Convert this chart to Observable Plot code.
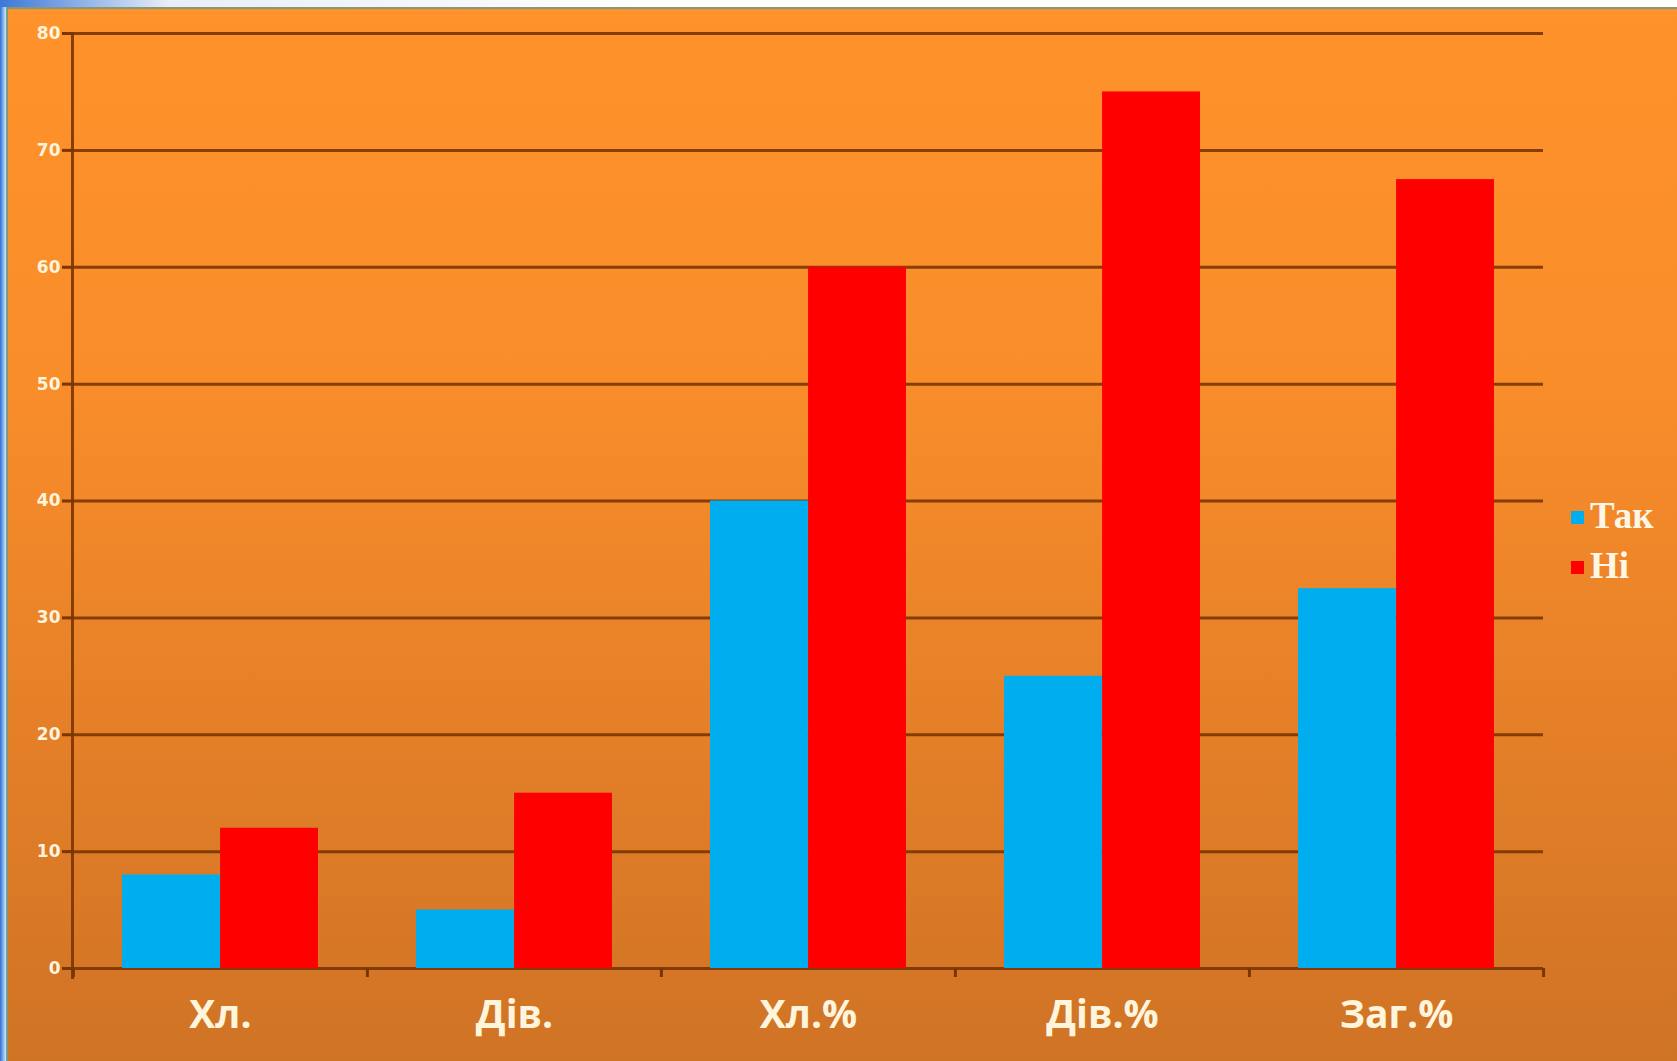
<!DOCTYPE html>
<html>
<head>
<meta charset="utf-8">
<script src="https://cdn.jsdelivr.net/npm/d3@7"></script>
<script src="https://cdn.jsdelivr.net/npm/@observablehq/plot@0.6"></script>
<style>
  html, body { margin: 0; padding: 0; }
  body { width: 1677px; height: 1061px; overflow: hidden; position: relative;
         background: linear-gradient(90deg, #2a6fd6 0px, #9cc0ef 4px, #dfe9f7 6px); }
  #topstrip { position: absolute; left: 0; top: 0; width: 1677px; height: 7px;
         background: linear-gradient(90deg, #3b78d8 0%, #e8eef8 10%, #ffffff 40%, #ffffff 100%); }
  #panel { position: absolute; left: 6px; top: 7px; width: 1671px; height: 1054px;
         background: linear-gradient(180deg, #ff922a 0%, #f98d2a 35%, #e47f28 70%, #cf7325 100%);
         border-top: 2px solid #7f9a7e; border-left: 2px solid #6fa08e; box-sizing: border-box; }
  #chart { position: absolute; left: 0; top: 0; }
  #legend { position: absolute; left: 1571px; top: 491px; font-family: "Liberation Serif", serif;
            font-size: 37px; font-weight: bold; color: #fff6e6; line-height: 50px; }
  #legend .row { display: flex; align-items: center; }
  #legend .sw { width: 13px; height: 13px; margin-right: 6px; margin-top: 2px; }
</style>
</head>
<body>
<div id="topstrip"></div>
<div id="panel"></div>
<div id="chart"></div>
<div id="legend"></div>
<script>
const categories = ["Хл.", "Дів.", "Хл.%", "Дів.%", "Заг.%"];
const series = ["Так", "Ні"];
const takValues = [8, 5, 40, 25, 32.5];
const niValues = [12, 15, 60, 75, 67.5];
const yTicks = [0, 10, 20, 30, 40, 50, 60, 70, 80];
const colors = ["#00aeef", "#ff0000"];

const tak = categories.map((c, i) => ({category: c, series: series[0], value: takValues[i]}));
const ni = categories.map((c, i) => ({category: c, series: series[1], value: niValues[i]}));

const W = 1677, H = 1061, ML = 72, MR = 134, MT = 33, MB = 93;
const step = (W - ML - MR) / categories.length;
const pInner = 1 / 3, pOuter = 1 / 6;
const bandwidth = step * (1 - pInner);
const gridColor = "#7a3500";
const labelColor = "#fff4dc";

const plot = Plot.plot({
  width: W,
  height: H,
  marginLeft: ML,
  marginRight: MR,
  marginTop: MT,
  marginBottom: MB,
  style: {background: "transparent", overflow: "visible"},
  x: {domain: categories, paddingInner: pInner, paddingOuter: pOuter, axis: null, label: null},
  y: {domain: [0, 80], axis: null, label: null},
  color: {domain: series, range: colors},
  marks: [
    Plot.ruleY(yTicks, {stroke: gridColor, strokeWidth: 3, strokeOpacity: 0.9}),
    Plot.axisY(yTicks, {
      label: null,
      tickSize: 10, tickPadding: 2, stroke: gridColor, strokeWidth: 3,
      fill: labelColor, fontSize: 17, fontWeight: "bold",
      fontFamily: "DejaVu Sans", tickFormat: d => String(d)
    }),
    Plot.frame({anchor: "left", stroke: gridColor, strokeWidth: 3, strokeOpacity: 0.9, insetBottom: -9}),
    Plot.barY(tak, {x: "category", y: "value", fill: "series", insetRight: bandwidth / 2}),
    Plot.barY(ni, {x: "category", y: "value", fill: "series", insetLeft: bandwidth / 2}),
    Plot.axisX({label: null, tickSize: 9, tickFormat: () => "", dx: -step / 2, stroke: gridColor, strokeWidth: 3}),
    Plot.axisX([categories[categories.length - 1]], {label: null, tickSize: 9, tickFormat: () => "", dx: step / 2, stroke: gridColor, strokeWidth: 3}),
    Plot.axisX({
      label: null,
      tickSize: 0, tickPadding: 32, fontSize: 39, fill: labelColor,
      fontFamily: "Open Sans", fontWeight: 700
    })
  ]
});

document.getElementById("chart").appendChild(plot);

const legend = document.getElementById("legend");
series.forEach((s, i) => {
  const row = document.createElement("div");
  row.className = "row";
  const sw = document.createElement("span");
  sw.className = "sw";
  sw.style.background = colors[i];
  const t = document.createElement("span");
  t.textContent = s;
  row.appendChild(sw);
  row.appendChild(t);
  legend.appendChild(row);
});
</script>
</body>
</html>
